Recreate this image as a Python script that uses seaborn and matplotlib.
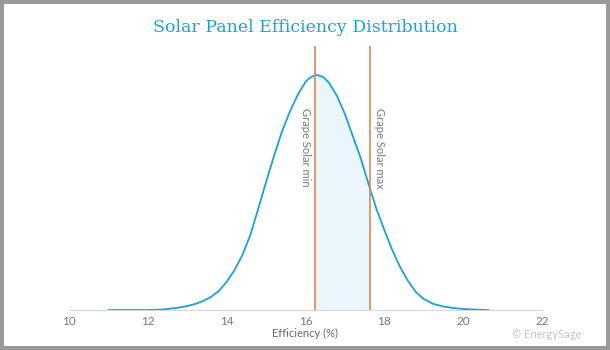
import numpy as np
import pandas as pd
import matplotlib.pyplot as plt
import seaborn as sns

# valores (altura relativa de la curva)
efficiency = [11.0, 12.0, 12.4, 12.8, 13.0, 13.2, 13.4, 13.6, 13.8, 14.0,
              14.2, 14.4, 14.6, 14.8, 15.0, 15.2, 15.4, 15.6, 15.8, 16.0,
              16.1, 16.23, 16.3, 16.45, 16.6, 16.8, 17.0, 17.2, 17.4, 17.64,
              17.8, 18.0, 18.2, 18.4, 18.6, 18.8, 19.0, 19.25, 19.5, 19.75,
              20.0, 20.3, 20.65]
density = [0, 0, 0.5, 2.5, 4, 6, 9, 13, 19, 28,
           40, 55, 75, 101, 128, 154, 178, 198, 215, 228,
           232, 234.5, 235, 233, 227, 214, 196, 174, 152, 121,
           101, 80, 60, 43, 29, 18, 11, 6, 3.5, 2,
           1, 0.4, 0]
grape_min = 16.23
grape_max = 17.64
xticks = [10, 12, 14, 16, 18, 20, 22]

df = pd.DataFrame({'eff': efficiency, 'dens': density})

sns.set_style('white')
plt.rcParams['font.family'] = ['Lato', 'DejaVu Sans']

fig = plt.figure(figsize=(6.1, 3.5), dpi=100, edgecolor='#9a9a9a', linewidth=4.5)
ax = fig.add_axes([0.1131, 0.1143, 0.7754, 0.7543])

# zona sombreada entre min y max
band = df[(df.eff >= grape_min) & (df.eff <= grape_max)]
ax.fill_between(band.eff, 0, band.dens, color='#eaf6fb', lw=0)

sns.lineplot(x='eff', y='dens', data=df, ax=ax, color='#1aa0dc', lw=1.3)

for xv in [grape_min, grape_max]:
    ax.axvline(xv, color='#e0874a', lw=1.2)

ax.text(grape_min - 0.1, 202, 'Grape Solar min', rotation=270, ha='right', va='top',
        color='#777777', fontsize=8)
ax.text(grape_max + 0.1, 202, 'Grape Solar max', rotation=270, ha='left', va='top',
        color='#777777', fontsize=8)

ax.set_xlim(10, 22)
ax.set_ylim(0, 264)
ax.set_xticks(xticks)
ax.set_yticks([])
ax.tick_params(axis='x', direction='in', length=4, color='#dddddd', labelcolor='#777777',
               labelsize=8.5, pad=4)
for s in ['top', 'right', 'left']:
    ax.spines[s].set_visible(False)
ax.spines['bottom'].set_color('#d6d6d6')
ax.set_xlabel('Efficiency (%)', color='#666666', fontsize=8, labelpad=1)
ax.set_ylabel('')

fig.text(0.5, 0.92, 'Solar Panel Efficiency Distribution', ha='center', va='center',
         family='DejaVu Serif', color='#1aa3db', fontsize=12.5)
fig.text(0.897, 0.044, '\u00a9 EnergySage', ha='center', va='center', color='#c4c4c4', fontsize=8)

fig.savefig('out.png', dpi=100, edgecolor=fig.get_edgecolor())
